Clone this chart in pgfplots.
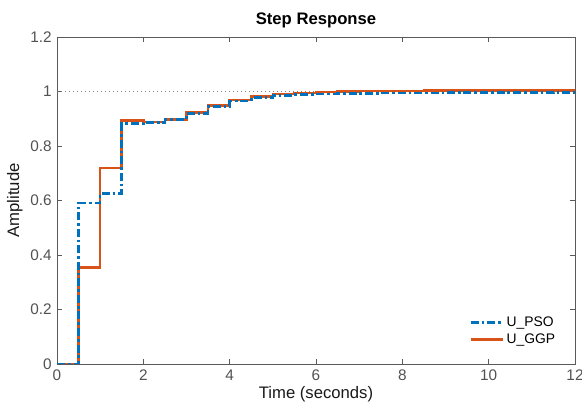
\documentclass[border=0pt]{standalone}
\usepackage{pgfplots}
\pgfplotsset{compat=1.18}
\usepackage{fontspec}
\setmainfont{Liberation Sans}
\definecolor{mblue}{RGB}{0,114,189}
\definecolor{morange}{RGB}{217,83,25}
\definecolor{axcol}{RGB}{90,90,90}
\begin{document}
\begin{tikzpicture}
\begin{axis}[
  scale only axis,
  width=388.5pt, height=245.25pt,
  xmin=0, xmax=12, ymin=0, ymax=1.2,
  xtick={0,2,...,12},
  ytick={0,0.2,0.4,0.6,0.8,1,1.2},
  yticklabels={0,0.2,0.4,0.6,0.8,1,1.2},
  tick align=inside,
  major tick length=3.8pt,
  tick style={axcol, line width=0.55pt},
  axis line style={axcol, line width=0.6pt},
  every tick label/.append style={font=\fontsize{11.5}{13}\selectfont, text=black!68},
  xticklabel style={yshift=-1pt},
  yticklabel style={xshift=-0.5pt},
  /pgf/number format/assume math mode=true,
  title={\bfseries Step Response},
  title style={font=\fontsize{12.5}{14}\selectfont, yshift=-3pt},
  xlabel={Time (seconds)},
  ylabel={Amplitude},
  label style={font=\fontsize{12.5}{14}\selectfont, text=black!90},
  xlabel style={yshift=3pt},
  ylabel style={yshift=-1pt},
  legend style={draw=none, fill=none, font=\fontsize{10.4}{12}\selectfont,
    at={(0.975,0.04)}, anchor=south east, row sep=0pt},
  legend cell align=left,
  legend image code/.code={\draw[#1] (0pt,0pt) -- (24pt,0pt);},
  reverse legend,
]
\addplot[gray, line width=0.6pt, dash pattern=on 0.9pt off 2.1pt, forget plot] coordinates {(0,1) (12,1)};
\addplot[const plot, morange, line width=1.9pt] coordinates {
(0,0) (0.5,0.355) (1,0.72) (1.5,0.893) (2,0.888) (2.5,0.897) (3,0.922) (3.5,0.948)
(4,0.968) (4.5,0.982) (5,0.990) (5.5,0.995) (6,0.998) (6.5,1.000) (7,1.001) (7.5,1.002)
(8,1.002) (8.5,1.003) (9,1.003) (9.5,1.003) (10,1.003) (10.5,1.003) (11,1.003) (11.5,1.003) (12,1.003)};
\addlegendentry{U\_GGP}
\addplot[const plot, mblue, line width=1.9pt, dash pattern=on 6pt off 2.2pt on 2pt off 2.2pt] coordinates {
(0,0) (0.5,0.590) (1,0.625) (1.5,0.882) (2,0.887) (2.5,0.898) (3,0.919) (3.5,0.945)
(4,0.965) (4.5,0.977) (5,0.986) (5.5,0.989) (6,0.991) (6.5,0.992) (7,0.993) (7.5,0.994)
(8,0.995) (8.5,0.995) (9,0.996) (9.5,0.996) (10,0.996) (10.5,0.996) (11,0.996) (11.5,0.997) (12,0.997)};
\addlegendentry{U\_PSO}
\end{axis}
\pgfresetboundingbox
\path[use as bounding box] ([xshift=-42.75pt, yshift=-36.75pt]current axis.south west) rectangle ([xshift=5.25pt, yshift=27.75pt]current axis.north east);
\end{tikzpicture}
\end{document}
